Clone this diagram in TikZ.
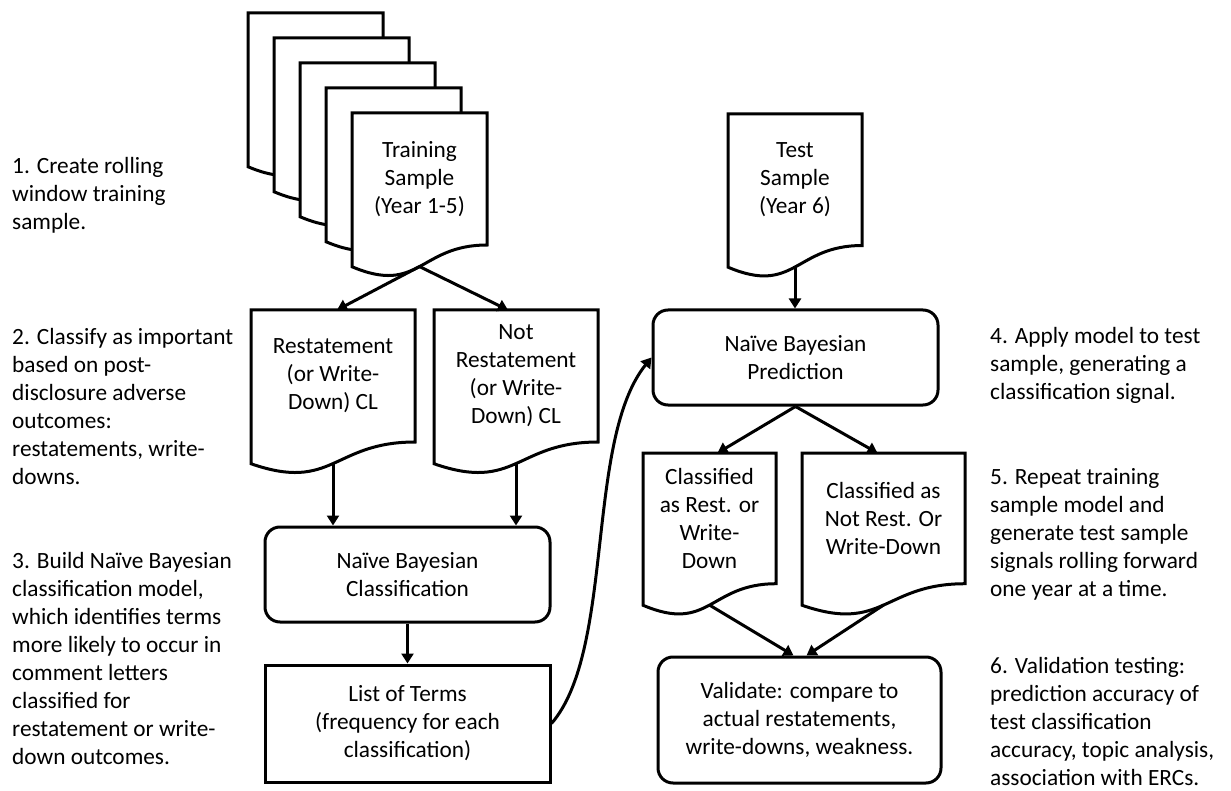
\documentclass[tikz,border=0pt]{standalone}
\usepackage{fontspec}
\setmainfont{Carlito}
\usetikzlibrary{arrows.meta,calc}
\newcommand{\mydoc}[6]{%
  \draw[docline] (#2,#3) -- ({#2+#4},#3) -- ({#2+#4},{#3+0.802*#5})
    .. controls ({#2+0.5*#4},{#3+0.802*#5}) and ({#2+0.5*#4},{#3+1.1075*#5}) .. (#2,{#3+0.934*#5}) -- cycle;
  \node[txt] (#1) at ({#2+0.5*#4},{#3+0.4*#5}) {#6};
  \coordinate (#1-top) at ({#2+0.5*#4},#3);
  \coordinate (#1-bot) at ({#2+0.5*#4},{#3+0.933*#5});
}
\begin{document}
\begin{tikzpicture}[x=1pt,y=-1pt,
  txt/.style={font=\fontsize{23.3}{28}\selectfont, align=center, inner sep=0pt},
  side/.style={font=\fontsize{23.3}{28}\selectfont, align=left, inner sep=0pt, anchor=west},
  docline/.style={line width=3pt, fill=white, line join=miter},
  rbox/.style={draw, line width=3pt, rounded corners=15pt, font=\fontsize{23.3}{28}\selectfont, align=center, inner sep=0pt},
  sbox/.style={draw, line width=3pt, font=\fontsize{23.3}{28}\selectfont, align=center, inner sep=0pt},
  arr/.style={line width=3pt, -{Triangle[length=10pt,width=12pt]}},
]
\path[use as bounding box, fill=white] (0,0) rectangle (1231,791);

% stacked training documents
\mydoc{d1}{248}{13}{135}{164.6}{}
\mydoc{d2}{274}{38}{135}{164.6}{}
\mydoc{d3}{300}{63}{135}{164.6}{}
\mydoc{d4}{326}{88}{135}{164.6}{}
\mydoc{train}{352}{113}{135}{164.6}{Training\\Sample\\(Year 1-5)}

\mydoc{test}{728}{114}{134}{164}{Test\\Sample\\(Year 6)}

\mydoc{rest}{251}{310}{164}{164.6}{Restatement\\(or Write-\\Down) CL}
\mydoc{nrest}{434}{310}{164}{164.6}{Not\\Restatement\\(or Write-\\Down) CL}

\mydoc{crest}{643}{453}{133}{163}{Classified\\as Rest. or\\Write-\\Down}
\mydoc{cnrest}{802}{453}{163}{163}{Classified as\\Not Rest. Or\\Write-Down}

\node[rbox, minimum width=285, minimum height=95] (pred) at (795.5,357.5) {Naïve Bayesian\\Prediction};
\node[rbox, minimum width=285, minimum height=95] (cls) at (407.5,574.5) {Naïve Bayesian\\Classification};
\node[sbox, minimum width=285, minimum height=117] (lt) at (407.5,723.5) {List of Terms\\(frequency for each\\classification)};
\node[rbox, minimum width=283, minimum height=126] (val) at (799.5,720) {Validate: compare to\\actual restatements,\\write-downs, weakness.};

% arrows
\draw[arr] (train-bot) -- ($(rest-top)+(4,0)$);
\draw[arr] (train-bot) -- ($(nrest-top)+(-8,0)$);
\draw[arr] (rest-bot) -- (rest-bot |- cls.north);
\draw[arr] (nrest-bot) -- (nrest-bot |- cls.north);
\draw[arr] (cls.south) -- (lt.north);
\draw[arr] (test-bot) -- (test-bot |- pred.north);
\draw[arr] (pred.south) -- ($(crest-top)+(8,0)$);
\draw[arr] (pred.south) -- ($(cnrest-top)+(-6,0)$);
\draw[arr] (crest-bot) -- ($(val.north)+(-6,0)$);
\draw[arr] (cnrest-bot) -- ($(val.north)+(7,0)$);
\draw[arr] (lt.east) .. controls (615,650) and (585,440) .. (pred.west);

% side texts
\node[side] (s1) at (12,195) {1. Create rolling\\window training\\sample.};
\node[side] (s2) at (12,407) {2. Classify as important\\based on post-\\disclosure adverse\\outcomes:\\restatements, write-\\downs.};
\node[side] (s3) at (12,658) {3. Build Naïve Bayesian\\classification model,\\which identifies terms\\more likely to occur in\\comment letters\\classified for\\restatement or write-\\down outcomes.};
\node[side] (s4) at (990,365) {4. Apply model to test\\sample, generating a\\classification signal.};
\node[side] (s5) at (990,534) {5. Repeat training\\sample model and\\generate test sample\\signals rolling forward\\one year at a time.};
\node[side] (s6) at (990,721) {6. Validation testing:\\prediction accuracy of\\test classification\\accuracy, topic analysis,\\association with ERCs.};
\end{tikzpicture}
\end{document}
